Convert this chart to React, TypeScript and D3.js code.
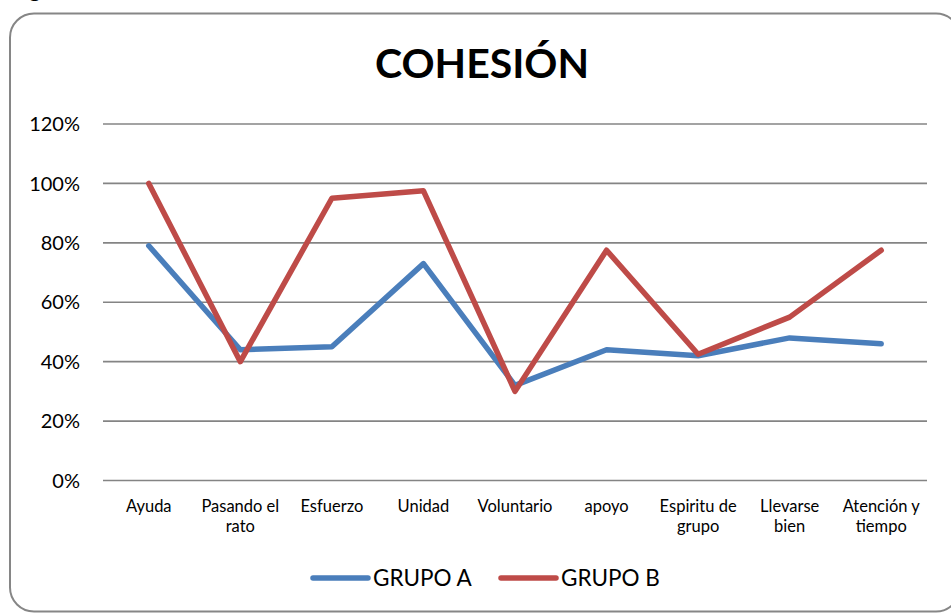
import React, { useEffect } from "react";
import * as d3 from "d3";

// chart data
const categories = [
  ["Ayuda"],
  ["Pasando el", "rato"],
  ["Esfuerzo"],
  ["Unidad"],
  ["Voluntario"],
  ["apoyo"],
  ["Espiritu de", "grupo"],
  ["Llevarse", "bien"],
  ["Atención y", "tiempo"],
];
const grupoA = [0.79, 0.44, 0.45, 0.73, 0.32, 0.44, 0.42, 0.48, 0.46];
const grupoB = [1.0, 0.4, 0.95, 0.975, 0.3, 0.775, 0.425, 0.55, 0.775];
const yTicks = [0, 0.2, 0.4, 0.6, 0.8, 1.0, 1.2];

const series = [
  { name: "GRUPO A", values: grupoA, color: "#4A7EBB" },
  { name: "GRUPO B", values: grupoB, color: "#BE4B48" },
];

const W = 951;
const H = 614;
const FONT = "Lato, 'Open Sans', sans-serif";

const App: React.FC = () => {
  useEffect(() => {
    document.body.style.margin = "0";
  }, []);

  const keys = categories.map((c) => c.join(" "));
  const x = d3.scaleBand<string>().domain(keys).range([103, 927]);
  const y = d3.scaleLinear().domain([0, 1.2]).range([480.5, 124]);
  const cx = (i: number) => (x(keys[i]) || 0) + x.bandwidth() / 2;

  const line = d3
    .line<number>()
    .x((_, i) => cx(i))
    .y((d) => y(d));

  return (
    <svg width={W} height={H} style={{ display: "block", background: "#fff" }}>
      {/* fragment of caption above the frame */}
      <text x={29} y={-3} fontFamily={FONT} fontSize={22} fill="#000">
        g
      </text>

      <rect x={10} y={13.5} width={950} height={598} rx={24} ry={24} fill="#fff" stroke="#868686" strokeWidth={2} />

      <text x={482} y={78} textAnchor="middle" fontFamily={FONT} fontWeight={700} fontSize={41} fill="#000">
        COHESIÓN
      </text>

      {yTicks.map((t) => (
        <g key={t}>
          <line x1={103} x2={927} y1={y(t)} y2={y(t)} stroke="#848484" strokeWidth={1.6} />
          <text
            x={80}
            y={y(t)}
            dy="0.36em"
            textAnchor="end"
            fontFamily={FONT}
            fontSize={20}
            fill="#000"
          >
            {d3.format(".0%")(t)}
          </text>
        </g>
      ))}

      {categories.map((c, i) => (
        <text key={i} textAnchor="middle" fontFamily={FONT} fontSize={16.5} fill="#000">
          {c.map((s, j) => (
            <tspan key={j} x={cx(i)} y={512 + j * 20}>
              {s}
            </tspan>
          ))}
        </text>
      ))}

      {series.map((s) => (
        <path
          key={s.name}
          d={line(s.values) || ""}
          fill="none"
          stroke={s.color}
          strokeWidth={5.5}
          strokeLinejoin="round"
          strokeLinecap="round"
        />
      ))}

      {series.map((s, i) => {
        const lx = 313 + i * 188;
        return (
          <g key={s.name}>
            <line x1={lx} x2={lx + 55} y1={578} y2={578} stroke={s.color} strokeWidth={5.5} strokeLinecap="round" />
            <text x={lx + 60} y={578} dy="0.36em" fontFamily={FONT} fontSize={22.5} fill="#000">
              {s.name}
            </text>
          </g>
        );
      })}
    </svg>
  );
};

export default App;
